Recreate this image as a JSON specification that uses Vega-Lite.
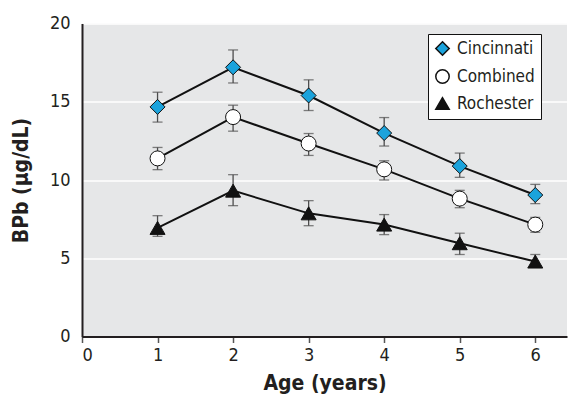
{
  "$schema": "https://vega.github.io/schema/vega-lite/v6.json",
  "autosize": "none",
  "width": 485,
  "height": 313,
  "padding": {"left": 82, "top": 23.5, "right": 13, "bottom": 78.5},
  "background": "white",
  "config": {
    "view": {"fill": "#e6e7e8", "stroke": null},
    "font": "Liberation Sans Narrow, DejaVu Sans Condensed, sans-serif",
    "axis": {
      "labelFont": "Liberation Sans Narrow, DejaVu Sans Condensed, sans-serif",
      "titleFont": "Liberation Sans Narrow, DejaVu Sans Condensed, sans-serif",
      "labelFontSize": 18,
      "labelColor": "#231f20",
      "titleFontSize": 21,
      "titleFontWeight": "bold",
      "titleColor": "#231f20",
      "domainColor": "#231f20",
      "domainWidth": 2
    },
    "legend": {
      "labelFont": "Liberation Sans Narrow, DejaVu Sans Condensed, sans-serif"
    }
  },
  "data": {
    "values": [
      {"city": "Cincinnati", "age": 1, "mean": 14.67, "lo": 13.7, "hi": 15.61},
      {"city": "Cincinnati", "age": 2, "mean": 17.2, "lo": 16.2, "hi": 18.31},
      {"city": "Cincinnati", "age": 3, "mean": 15.4, "lo": 14.44, "hi": 16.4},
      {"city": "Cincinnati", "age": 4, "mean": 13.0, "lo": 12.17, "hi": 13.99},
      {"city": "Cincinnati", "age": 5, "mean": 10.89, "lo": 10.17, "hi": 11.72},
      {"city": "Cincinnati", "age": 6, "mean": 9.04, "lo": 8.49, "hi": 9.72},
      {"city": "Combined", "age": 1, "mean": 11.38, "lo": 10.66, "hi": 12.08},
      {"city": "Combined", "age": 2, "mean": 14.02, "lo": 13.12, "hi": 14.78},
      {"city": "Combined", "age": 3, "mean": 12.33, "lo": 11.57, "hi": 12.97},
      {"city": "Combined", "age": 4, "mean": 10.68, "lo": 10.0, "hi": 11.23},
      {"city": "Combined", "age": 5, "mean": 8.81, "lo": 8.23, "hi": 9.34},
      {"city": "Combined", "age": 6, "mean": 7.15, "lo": 6.66, "hi": 7.61},
      {"city": "Rochester", "age": 1, "mean": 6.94, "lo": 6.4, "hi": 7.72},
      {"city": "Rochester", "age": 2, "mean": 9.32, "lo": 8.36, "hi": 10.34},
      {"city": "Rochester", "age": 3, "mean": 7.87, "lo": 7.08, "hi": 8.68},
      {"city": "Rochester", "age": 4, "mean": 7.15, "lo": 6.51, "hi": 7.79},
      {"city": "Rochester", "age": 5, "mean": 5.96, "lo": 5.24, "hi": 6.6},
      {"city": "Rochester", "age": 6, "mean": 4.79, "lo": 4.5, "hi": 5.24}
    ]
  },
  "encoding": {
    "x": {
      "field": "age",
      "type": "quantitative",
      "scale": {"domain": [0, 6.42], "nice": false, "zero": false},
      "axis": {
        "title": "Age (years)",
        "values": [0, 1, 2, 3, 4, 5, 6],
        "format": "d",
        "grid": false,
        "ticks": true,
        "tickSize": 6,
        "tickColor": "#555555",
        "tickWidth": 1.5,
        "labelPadding": 4,
        "titlePadding": 8
      }
    }
  },
  "layer": [
    {
      "mark": {"type": "errorbar", "color": "#4d4d4d", "thickness": 1.3, "ticks": {"size": 10, "thickness": 1.3, "color": "#4d4d4d"}},
      "encoding": {
        "y": {"field": "lo", "type": "quantitative", "title": "BPb (µg/dL)"},
        "y2": {"field": "hi"}
      }
    },
    {
      "mark": {"type": "line", "color": "#111111", "strokeWidth": 2},
      "encoding": {
        "y": {"field": "mean", "type": "quantitative", "title": "BPb (µg/dL)"},
        "detail": {"field": "city"}
      }
    },
    {
      "mark": {"type": "point", "filled": true, "stroke": "#111111", "strokeWidth": 1, "size": 225, "opacity": 1},
      "encoding": {
        "y": {
          "field": "mean",
          "type": "quantitative",
          "title": "BPb (µg/dL)",
          "scale": {"domain": [0, 20], "nice": false},
          "axis": {
            "title": "BPb (µg/dL)",
            "values": [0, 5, 10, 15, 20],
            "grid": true,
            "gridColor": "white",
            "gridWidth": 1.5,
            "ticks": false,
            "labelPadding": 12,
            "titlePadding": 18
          }
        },
        "shape": {
          "field": "city",
          "type": "nominal",
          "scale": {"domain": ["Cincinnati", "Combined", "Rochester"], "range": ["diamond", "circle", "triangle-up"]},
          "legend": {
            "title": null,
            "orient": "none",
            "legendX": 346,
            "legendY": 10.5,
            "fillColor": "white",
            "strokeColor": "#111111",
            "padding": 6,
            "labelFontSize": 17,
            "labelColor": "#231f20",
            "symbolSize": 180,
            "rowPadding": 7,
            "labelOffset": 6,
            "encode": {"symbols": {"update": {"stroke": {"value": "#111111"}, "strokeWidth": {"value": 1}}}}
          }
        },
        "fill": {
          "field": "city",
          "type": "nominal",
          "scale": {"domain": ["Cincinnati", "Combined", "Rochester"], "range": ["#1ba3dc", "white", "#111111"]},
          "legend": {
            "title": null,
            "orient": "none",
            "legendX": 346,
            "legendY": 10.5,
            "fillColor": "white",
            "strokeColor": "#111111",
            "padding": 6,
            "labelFontSize": 17,
            "labelColor": "#231f20",
            "symbolSize": 180,
            "rowPadding": 7,
            "labelOffset": 6,
            "encode": {"symbols": {"update": {"stroke": {"value": "#111111"}, "strokeWidth": {"value": 1}}}}
          }
        }
      }
    }
  ]
}
